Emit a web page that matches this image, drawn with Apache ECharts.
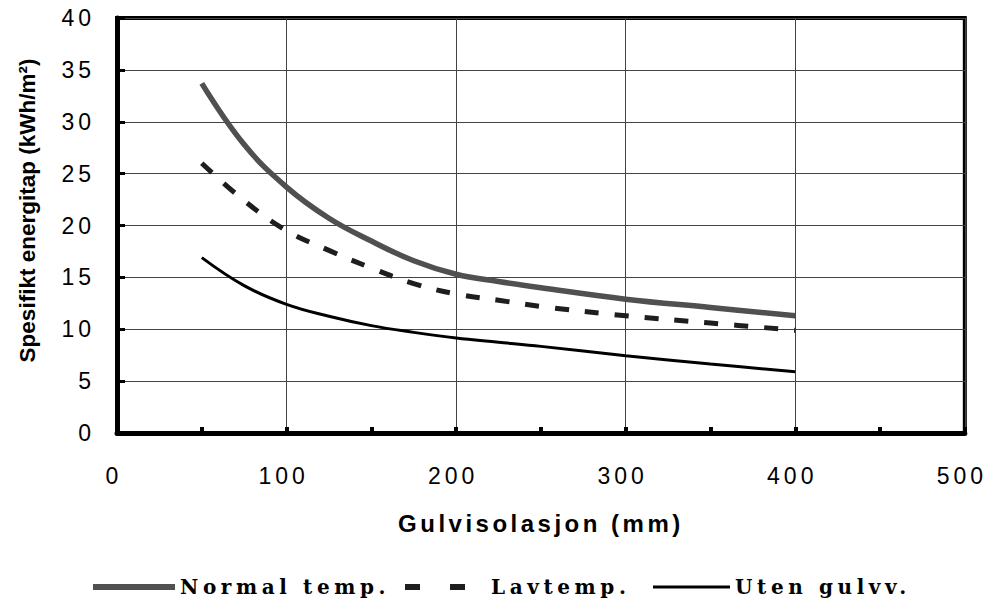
<!DOCTYPE html>
<html>
<head>
<meta charset="utf-8">
<script src="https://cdn.jsdelivr.net/npm/echarts@6/dist/echarts.min.js"></script>
<style>
  html, body { margin: 0; padding: 0; background: #fff; }
  #chart { width: 990px; height: 598px; }
  #chart text[style*="23px"], #chart text[font-size="23px"], #chart text[font-size="23"] { letter-spacing: 4px; }
  #chart text[style*="24px"], #chart text[font-size="24px"], #chart text[font-size="24"] { letter-spacing: 3.5px; }
  #chart text[style*="20px"], #chart text[font-size="20px"], #chart text[font-size="20"] { letter-spacing: 4.6px; }
</style>
</head>
<body>
<div id="chart"></div>
<script>
// ---- data ----
const insulation = [50, 75, 100, 125, 150, 175, 200, 225, 250, 300, 350, 400];
const normalTemp = [33.7, 27.8, 23.7, 20.7, 18.5, 16.6, 15.3, 14.6, 14.0, 12.9, 12.1, 11.3];
const lavTemp    = [26.0, 22.4, 19.5, 17.6, 15.9, 14.4, 13.4, 12.8, 12.2, 11.3, 10.6, 9.9];
const utenGulvv  = [16.9, 14.2, 12.4, 11.25, 10.35, 9.7, 9.15, 8.75, 8.35, 7.45, 6.65, 5.9];
const seriesNames = ['Normal temp.', 'Lavtemp.', 'Uten gulvv.'];
const xAxisRange = [0, 500, 100];
const yAxisRange = [0, 40, 5];
const xAxisTitle = 'Gulvisolasjon (mm)';
const yAxisTitle = 'Spesifikt energitap (kWh/m²)';

const pairs = (ys) => insulation.map((x, i) => [x, ys[i]]);

const chart = echarts.init(document.getElementById('chart'), null, { renderer: 'svg' });

const legendText = {
  fontFamily: 'DejaVu Serif', fontWeight: 'bold', fontSize: 20, color: '#000', lineHeight: 20
};

chart.setOption({
  animation: false,
  backgroundColor: '#fff',
  grid: {
    left: 117, right: 23, top: 18, bottom: 165,
    show: true, borderColor: '#000', borderWidth: 4, backgroundColor: 'transparent'
  },
  xAxis: {
    type: 'value',
    min: xAxisRange[0], max: xAxisRange[1], interval: xAxisRange[2],
    name: xAxisTitle, nameLocation: 'middle', nameGap: 78,
    nameTextStyle: { fontFamily: 'Liberation Sans', fontWeight: 'bold', fontSize: 24, color: '#000', lineHeight: 24 },
    axisLine: { show: true, onZero: false, lineStyle: { color: '#000', width: 5 } },
    axisTick: { show: true, inside: true, length: 6, lineStyle: { color: '#000', width: 4 } },
    minorTick: { show: true, splitNumber: 2, length: 6, lineStyle: { color: '#000', width: 4 } },
    axisLabel: { margin: 31, fontFamily: 'Liberation Sans', fontSize: 23, color: '#000', lineHeight: 23, padding: [0, 6, 0, 0] },
    splitLine: { show: true, lineStyle: { color: '#444', width: 1 } }
  },
  yAxis: {
    type: 'value',
    min: yAxisRange[0], max: yAxisRange[1], interval: yAxisRange[2],
    name: yAxisTitle, nameLocation: 'middle', nameGap: 78, nameRotate: 90,
    nameTextStyle: { fontFamily: 'Liberation Sans', fontWeight: 'bold', fontSize: 22.5, color: '#000', padding: [0, 0, 0, 30] },
    axisLine: { show: true, onZero: false, lineStyle: { color: '#000', width: 5 } },
    axisTick: { show: true, inside: true, length: 8, lineStyle: { color: '#000', width: 3 } },
    axisLabel: { margin: 22, fontFamily: 'Liberation Sans', fontSize: 23, color: '#000', lineHeight: 23, padding: [8, 0, 0, 0] },
    splitLine: { show: true, lineStyle: { color: '#444', width: 1 } }
  },
  legend: [
    {
      data: [{ name: seriesNames[0], icon: 'rect' }], left: 93, top: 577, itemWidth: 82, itemHeight: 6, padding: 0,
      textStyle: legendText
    },
    {
      data: [{ name: seriesNames[1], icon: 'path://M0,0h15v6h-15z M45,0h15v6h-15z' }], left: 405, top: 577, itemWidth: 62, itemHeight: 6, padding: 0,
      textStyle: Object.assign({}, legendText, { padding: [0, 0, 0, 20] })
    },
    {
      data: [{ name: seriesNames[2], icon: 'rect' }], left: 653, top: 577, itemWidth: 77, itemHeight: 3, padding: 0,
      textStyle: legendText
    }
  ],
  series: [
    {
      name: seriesNames[0], type: 'line', data: pairs(normalTemp),
      smooth: 0.4, symbol: 'none', showSymbol: false,
      itemStyle: { color: '#505050' },
      lineStyle: { color: '#505050', width: 5.5 }
    },
    {
      name: seriesNames[1], type: 'line', data: pairs(lavTemp),
      smooth: 0.4, symbol: 'none', showSymbol: false,
      itemStyle: { color: '#1e1e1e' },
      lineStyle: { color: '#1e1e1e', width: 5, type: [14, 16] }
    },
    {
      name: seriesNames[2], type: 'line', data: pairs(utenGulvv),
      smooth: 0.4, symbol: 'none', showSymbol: false,
      itemStyle: { color: '#000' },
      lineStyle: { color: '#000', width: 3 }
    }
  ]
});
</script>
</body>
</html>
